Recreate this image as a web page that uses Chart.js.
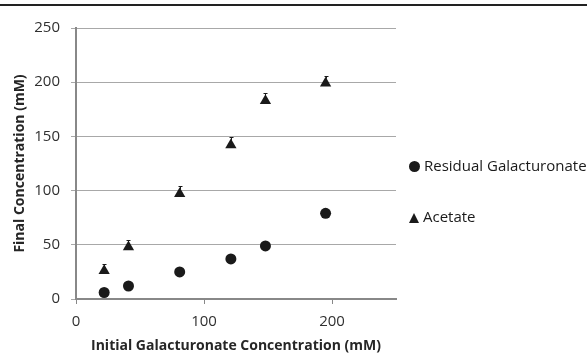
<!DOCTYPE html>
<html>
<head>
<meta charset="utf-8">
<script src="https://cdn.jsdelivr.net/npm/chart.js@4.4.1/dist/chart.umd.min.js"></script>
<style>
  html, body { margin: 0; padding: 0; background: #fff; }
  #wrap { position: relative; width: 587px; height: 355px; font-family: "Open Sans", sans-serif; color: #1a1a1a; }
  #topline { position: absolute; left: 0; top: 4px; width: 587px; height: 2px; background: #222; }
  #legend { position: absolute; left: 409px; top: 0; font-size: 15px; }
  .item { position: absolute; white-space: nowrap; left: 0; line-height: 18px; }
  .dot { display: inline-block; width: 11px; height: 11px; border-radius: 50%; background: #1a1a1a; margin-right: 4px; vertical-align: -1px; }
  .tri { display: inline-block; width: 0; height: 0; border-left: 5px solid transparent; border-right: 5px solid transparent; border-bottom: 10px solid #1a1a1a; margin-right: 4px; vertical-align: -1px; }
</style>
</head>
<body>
<div id="wrap">
  <div id="topline"></div>
  <canvas id="chart" width="587" height="355"></canvas>
  <div id="legend"></div>
</div>
<script>
// Initial galacturonate (mM) for each sample
var initialConc = [22, 41, 81, 121, 148, 195];
// Residual galacturonate (mM)
var residual = [6, 12, 25, 37, 49, 79];
// Acetate produced (mM) and its error
var acetate = [26, 48, 97, 142, 183, 199];
var acetateErr = [0.5, 0.5, 1, 1.5, 1.5, 1];

var seriesNames = ['Residual Galacturonate', 'Acetate'];
var xTicks = [0, 100, 200];
var yTicks = [0, 50, 100, 150, 200, 250];

var triRadius = 6.5;

function toPoints(xs, ys) {
  return xs.map(function (x, i) { return { x: x, y: ys[i] }; });
}

// tiny whisker caps on top of the acetate markers
var errorBars = {
  id: 'errorBars',
  afterDatasetsDraw: function (chart) {
    var ctx = chart.ctx;
    var xs = chart.scales.x, ys = chart.scales.y;
    ctx.save();
    ctx.strokeStyle = '#1a1a1a';
    ctx.lineWidth = 1;
    initialConc.forEach(function (x, i) {
      var px = Math.round(xs.getPixelForValue(x)) + 0.5;
      var bot = ys.getPixelForValue(acetate[i]) - triRadius + 2;
      var top = Math.round(ys.getPixelForValue(acetate[i] + acetateErr[i]) - triRadius) + 0.5;
      ctx.beginPath();
      ctx.moveTo(px, top); ctx.lineTo(px, bot);
      ctx.moveTo(px - 2, top); ctx.lineTo(px + 2, top);
      ctx.stroke();
    });
    ctx.restore();
  }
};

var tickFont = { family: '"Open Sans", sans-serif', size: 15 };
var titleFont = { family: '"Open Sans", sans-serif', size: 14, weight: 'bold' };

new Chart(document.getElementById('chart'), {
  type: 'scatter',
  data: {
    datasets: [
      { label: seriesNames[0], data: toPoints(initialConc, residual), pointStyle: 'circle', pointRadius: 5.5, backgroundColor: '#1a1a1a', borderColor: '#1a1a1a', borderWidth: 0 },
      { label: seriesNames[1], data: toPoints(initialConc, acetate), pointStyle: 'triangle', pointRadius: triRadius, backgroundColor: '#1a1a1a', borderColor: '#1a1a1a', borderWidth: 0 }
    ]
  },
  options: {
    responsive: false,
    animation: false,
    layout: { padding: { left: 0, right: 191, top: 28, bottom: 0 } },
    plugins: { legend: { display: false }, tooltip: { enabled: false } },
    scales: {
      x: {
        type: 'linear', min: 0, max: 250,
        afterBuildTicks: function (s) { s.ticks = xTicks.map(function (v) { return { value: v }; }); },
        afterFit: function (s) { s.height = 56; },
        grid: { drawOnChartArea: false, drawTicks: true, tickLength: 5, color: '#888' },
        border: { color: '#888', width: 2 },
        ticks: { color: '#303030', font: tickFont, padding: 9 },
        title: { display: true, text: 'Initial Galacturonate Concentration (mM)', color: '#262626', font: titleFont, padding: { top: 0, bottom: 1 } }
      },
      y: {
        min: 0, max: 250,
        afterBuildTicks: function (s) { s.ticks = yTicks.map(function (v) { return { value: v }; }); },
        afterFit: function (s) { s.width = 76; },
        grid: { color: '#a8a8a8', tickLength: 5 },
        border: { color: '#888', width: 2 },
        ticks: { color: '#303030', font: tickFont, padding: 11 },
        title: { display: true, text: 'Final Concentration (mM)', color: '#262626', font: titleFont, padding: { top: 12, bottom: 0 } }
      }
    }
  },
  plugins: [errorBars]
});

var legend = document.getElementById('legend');
[['dot', 156], ['tri', 207]].forEach(function (m, i) {
  var d = document.createElement('div');
  d.className = 'item';
  d.style.top = m[1] + 'px';
  d.innerHTML = '<span class="' + m[0] + '"></span>' + seriesNames[i];
  legend.appendChild(d);
});
</script>
</body>
</html>
